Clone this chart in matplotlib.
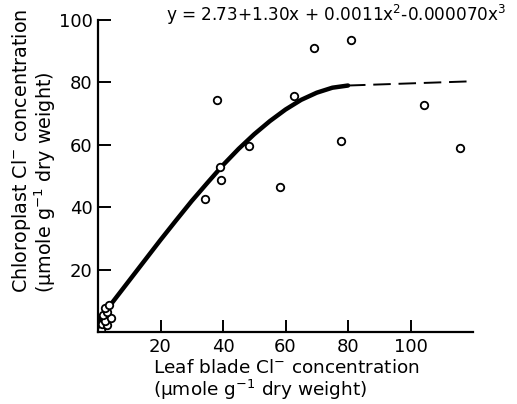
"""Chloroplast vs leaf blade Cl- concentration."""

import matplotlib
matplotlib.use("Agg")
import matplotlib.pyplot as plt

# measured points (leaf blade Cl-, chloroplast Cl-)
leaf_x = [1.0, 1.3, 2.8, 2.3, 4.0, 1.7, 3.0, 2.2, 3.5,
          34.2, 38.2, 39.0, 39.2, 48.2, 58.2, 62.8, 69.0, 77.8, 81.0, 104.2, 115.8]
chloro_y = [0.6, 2.5, 2.2, 3.5, 4.6, 5.5, 6.4, 7.7, 8.7,
            42.5, 74.5, 52.9, 48.6, 59.5, 46.4, 75.7, 91.0, 61.3, 93.5, 72.8, 59.0]

# fitted curve (solid part)
fit_x = [0, 5, 10, 15, 20, 25, 30, 35, 40, 45, 50, 55, 60, 65, 70, 75, 80]
fit_y = [3.5, 10.0, 16.5, 23.0, 29.5, 35.8, 42.0, 47.8, 53.5, 58.7, 63.4, 67.6, 71.3, 74.4, 76.7, 78.3, 79.0]

# extrapolated part (dashed)
ext_x = [80, 118]
ext_y = [79.0, 80.3]

x_ticks = [20, 40, 60, 80, 100]
y_ticks = [20, 40, 60, 80, 100]

plt.rcParams["font.family"] = ["DejaVu Sans"]

fig = plt.figure(figsize=(5.17, 4.04), dpi=100)
ax = fig.add_axes([98 / 517, 1 - 332 / 404, (473 - 98) / 517, (332 - 20) / 404])

ax.plot(fit_x, fit_y, color="black", linewidth=3.2,
        solid_capstyle="round", solid_joinstyle="round")
ax.plot(ext_x, ext_y, color="black", linewidth=1.4, dashes=(9, 4))
ax.plot(leaf_x, chloro_y, linestyle="none", marker="o", markersize=5.4,
        markerfacecolor="white", markeredgecolor="black", markeredgewidth=1.3)

ax.set_xlim(0, 120)
ax.set_ylim(0, 100)
ax.set_xticks(x_ticks)
ax.set_yticks(y_ticks)
ax.tick_params(direction="in", length=9, width=1.4, labelsize=13, pad=4)
for side in ("top", "right"):
    ax.spines[side].set_visible(False)
for side in ("left", "bottom"):
    ax.spines[side].set_linewidth(1.6)

fig.text(166 / 517, 1 - 15 / 404,
         "y = 2.73+1.30x + 0.0011x$^2$-0.000070x$^3$",
         fontsize=12.2, ha="left", va="center")

fig.text(153 / 517, 1 - 368 / 404, "Leaf blade Cl$^{-}$ concentration",
         fontsize=13.3, ha="left", va="center")
fig.text(153 / 517, 1 - 390 / 404, "(\u00b5mole g$^{-1}$ dry weight)",
         fontsize=13.3, ha="left", va="center")
fig.text(22 / 517, 1 - 293 / 404, "Chloroplast Cl$^{-}$ concentration",
         fontsize=13.8, rotation=90, ha="center", va="bottom")
fig.text(45 / 517, 1 - 293 / 404, "(\u00b5mole g$^{-1}$ dry weight)",
         fontsize=13.8, rotation=90, ha="center", va="bottom")

fig.savefig("out.png", dpi=100)
